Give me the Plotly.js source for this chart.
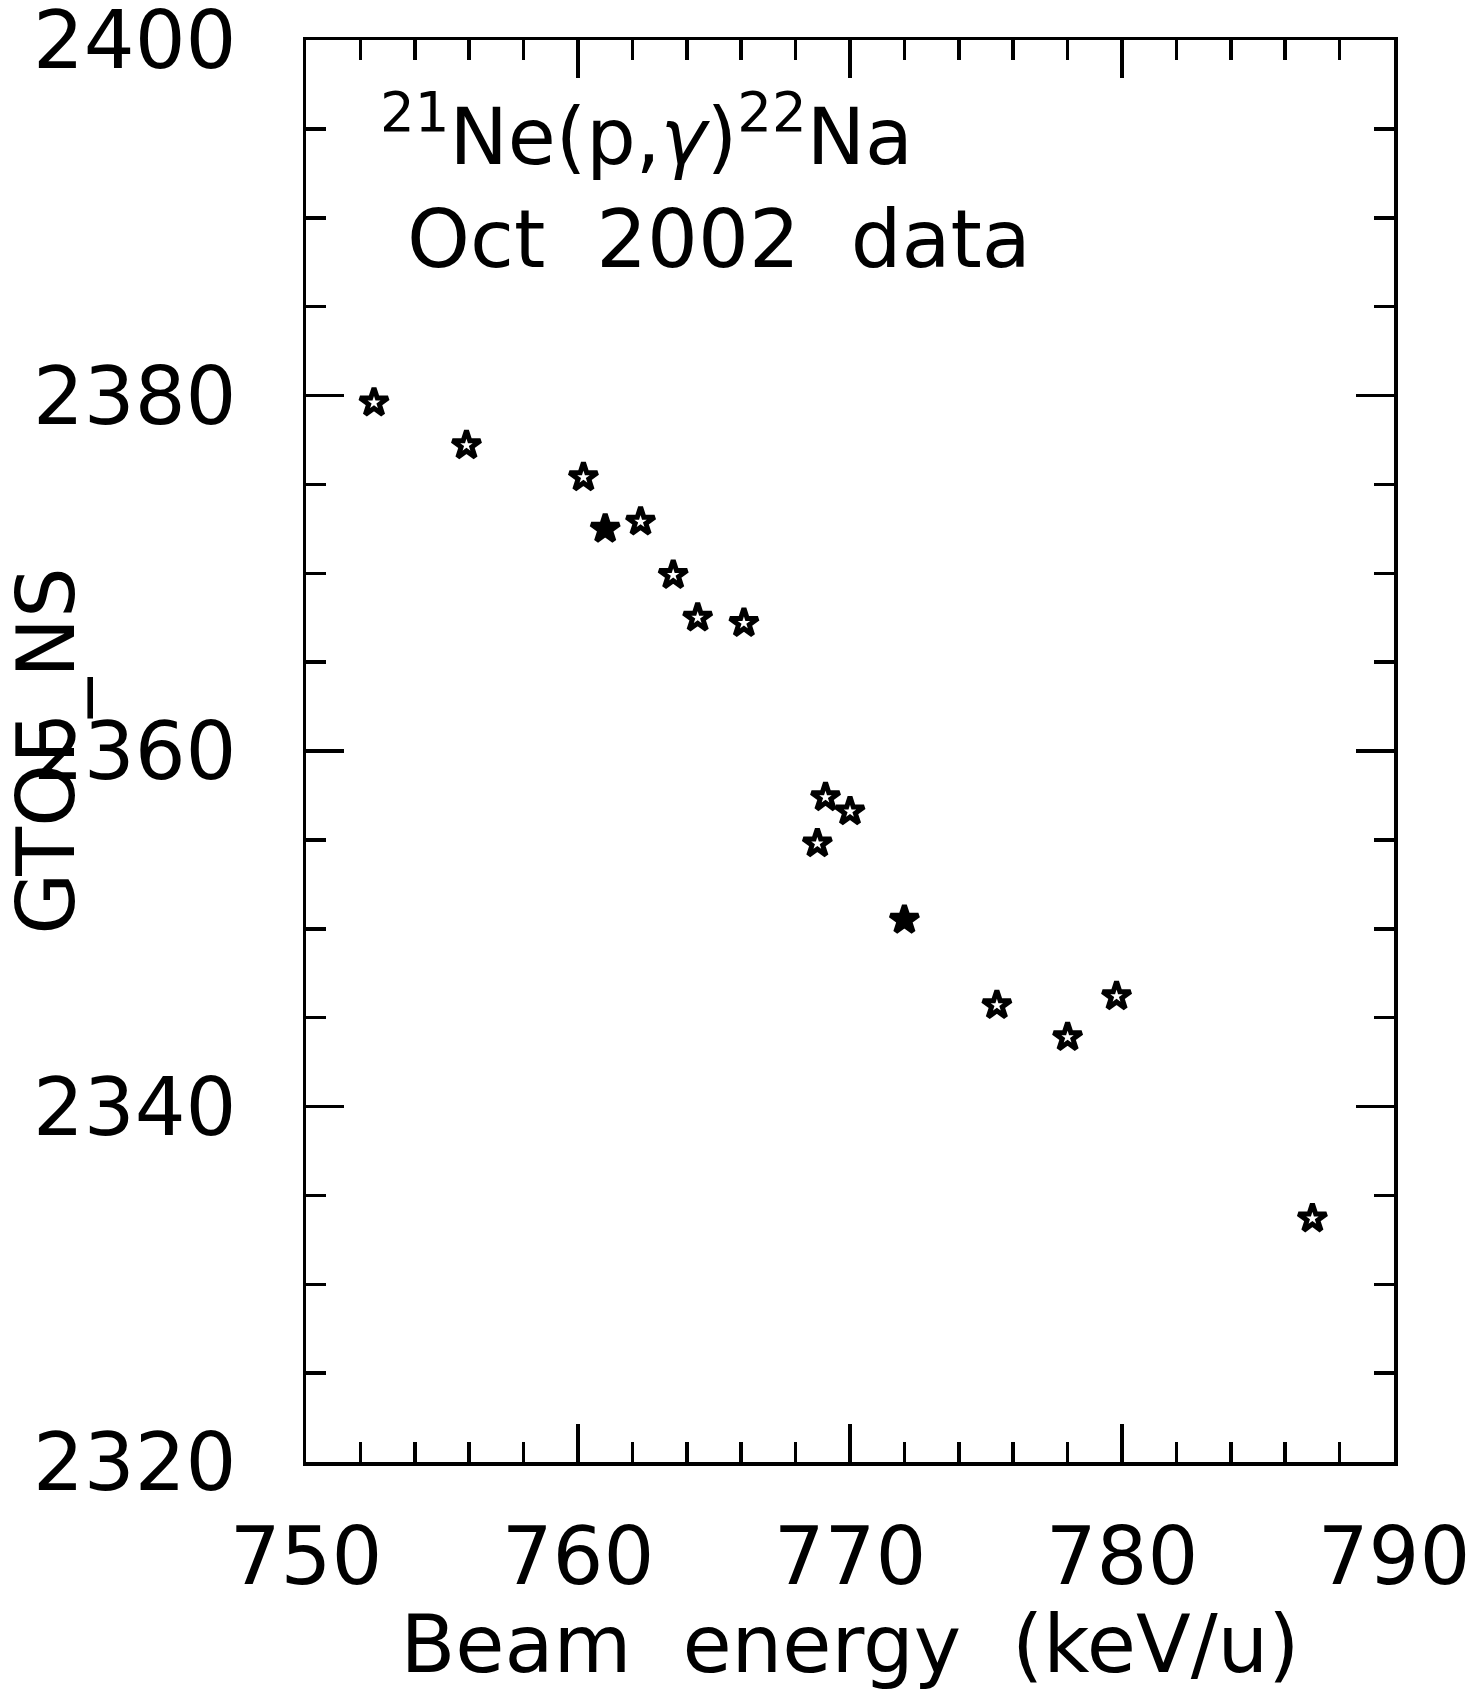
<!DOCTYPE html>
<html>
<head>
<meta charset="utf-8">
<script src="https://cdn.plot.ly/plotly-3.0.1.min.js"></script>
<style>html,body{margin:0;padding:0;background:#fff;}#chart{width:1478px;height:1691px;}</style>
</head>
<body>
<div id="chart"></div>
<script>
// Data
const beamEnergy = [752.5, 755.9, 760.2, 761.0, 762.3, 763.5, 764.4, 766.1, 769.1, 770.0, 768.8, 772.0, 775.4, 778.0, 779.8, 787.0];
const gtofNs     = [2379.6, 2377.2, 2375.4, 2372.5, 2372.9, 2369.9, 2367.5, 2367.2, 2357.4, 2356.6, 2354.8, 2350.5, 2345.7, 2343.9, 2346.2, 2333.7];
const filledIdx  = [3, 11];
const xTickVals  = [750, 760, 770, 780, 790];
const yTickVals  = [2320, 2340, 2360, 2380, 2400];
const titleLine1 = "<sup>21</sup>Ne(p,<i>γ</i>)<sup>22</sup>Na";
const titleLine2 = "Oct  2002  data";
const xTitle = "Beam  energy  (keV/u)";
const yTitle = "GTOF_NS";

const FONT = "DejaVu Sans, sans-serif";
const symbols = beamEnergy.map((_, i) => filledIdx.includes(i) ? "star" : "star-open");

const trace = {
  x: beamEnergy, y: gtofNs, type: "scatter", mode: "markers",
  marker: {symbol: symbols, size: 21, color: "#000", line: {color: "#000", width: 5}},
  hoverinfo: "x+y", cliponaxis: false
};

const axisCommon = {
  showline: true, linecolor: "#000", linewidth: 3.5, mirror: "ticks",
  ticks: "inside", ticklen: 38, tickwidth: 3.5, tickcolor: "#000",
  showgrid: false, zeroline: false, ticklabeloverflow: "allow",
  tickfont: {family: FONT, size: 80, color: "#000"},
};

const layout = {
  width: 1478, height: 1691,
  paper_bgcolor: "#fff", plot_bgcolor: "#fff",
  margin: {l: 306, r: 84, t: 40, b: 229},
  showlegend: false,
  font: {family: FONT, color: "#000"},
  xaxis: Object.assign({}, axisCommon, {
    range: [750, 790], tickvals: xTickVals, ticktext: xTickVals.map(String),
    minor: {dtick: 2, tick0: 750, ticks: "inside", ticklen: 20, tickwidth: 3.5, tickcolor: "#000"},
    ticklabelstandoff: 22,
    title: {text: xTitle, font: {family: FONT, size: 80, color: "#000"}, standoff: 22}
  }),
  yaxis: Object.assign({}, axisCommon, {
    range: [2320, 2400], tickvals: yTickVals, ticktext: yTickVals.map(String),
    minor: {dtick: 5, tick0: 2320, ticks: "inside", ticklen: 20, tickwidth: 3.5, tickcolor: "#000"},
    ticklabelstandoff: 50,
    title: {text: yTitle, font: {family: FONT, size: 80, color: "#000"}, standoff: 0}
  }),
  annotations: [
    {xref: "paper", yref: "paper", x: 0.3125, y: 0.936, text: titleLine1, showarrow: false,
     font: {family: FONT, size: 78, color: "#000"}, xanchor: "center", yanchor: "middle"},
    {xref: "paper", yref: "paper", x: 0.38, y: 0.86, text: titleLine2, showarrow: false,
     font: {family: FONT, size: 80, color: "#000"}, xanchor: "center", yanchor: "middle"}
  ]
};

Plotly.newPlot("chart", [trace], layout, {displayModeBar: false, staticPlot: true});
</script>
</body>
</html>
